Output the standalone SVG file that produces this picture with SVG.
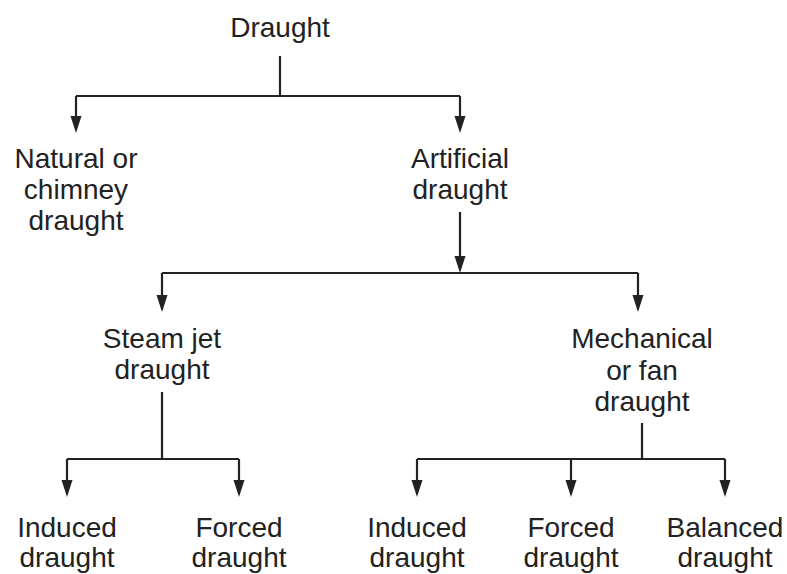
<svg xmlns="http://www.w3.org/2000/svg" xmlns:xlink="http://www.w3.org/1999/xlink" width="787" height="574" viewBox="0 0 787 574">
<style>
text{font-family:"Liberation Sans",Arial,sans-serif;font-size:28px;fill:#222;text-anchor:middle}
.c path,.c line{stroke:#222;stroke-width:2.2;fill:none}
.ah{fill:#222;stroke:none}
</style>
<defs>
<path id="ah" class="ah" d="M-5.5,-17 L5.5,-17 L0,0 Z"/>
</defs>
<rect width="787" height="574" fill="#fff"/>
<g class="c" id="connectors">
<path d="M280,56 V96 M76,96 H460 M76,96 V120 M460,96 V120"/>
<path d="M460,212 V262 M162,273 H638 M162,273 V300 M638,273 V300"/>
<path d="M162,392 V459 M67,459 H239 M67,459 V485 M239,459 V485"/>
<path d="M642,423 V459 M417,459 H725 M417,459 V485 M571,459 V485 M725,459 V485"/>
<use xlink:href="#ah" x="76" y="133"/>
<use xlink:href="#ah" x="460" y="133"/>
<use xlink:href="#ah" x="460" y="273"/>
<use xlink:href="#ah" x="162" y="312"/>
<use xlink:href="#ah" x="638" y="312"/>
<use xlink:href="#ah" x="67" y="497"/>
<use xlink:href="#ah" x="239" y="497"/>
<use xlink:href="#ah" x="417" y="497"/>
<use xlink:href="#ah" x="571" y="497"/>
<use xlink:href="#ah" x="725" y="497"/>
</g>
<g id="draught"><text x="280" y="37">Draught</text></g>
<g id="natural"><text x="76" y="168">Natural or</text><text x="76" y="199">chimney</text><text x="76" y="230">draught</text></g>
<g id="artificial"><text x="460" y="168">Artificial</text><text x="460" y="199">draught</text></g>
<g id="steam"><text x="162" y="348">Steam jet</text><text x="162" y="379">draught</text></g>
<g id="mechanical"><text x="642" y="348">Mechanical</text><text x="642" y="380">or fan</text><text x="642" y="411">draught</text></g>
<g id="steam-induced"><text x="67" y="537">Induced</text><text x="67" y="567">draught</text></g>
<g id="steam-forced"><text x="239" y="537">Forced</text><text x="239" y="567">draught</text></g>
<g id="mech-induced"><text x="417" y="537">Induced</text><text x="417" y="567">draught</text></g>
<g id="mech-forced"><text x="571" y="537">Forced</text><text x="571" y="567">draught</text></g>
<g id="mech-balanced"><text x="725" y="537">Balanced</text><text x="725" y="567">draught</text></g>
</svg>
